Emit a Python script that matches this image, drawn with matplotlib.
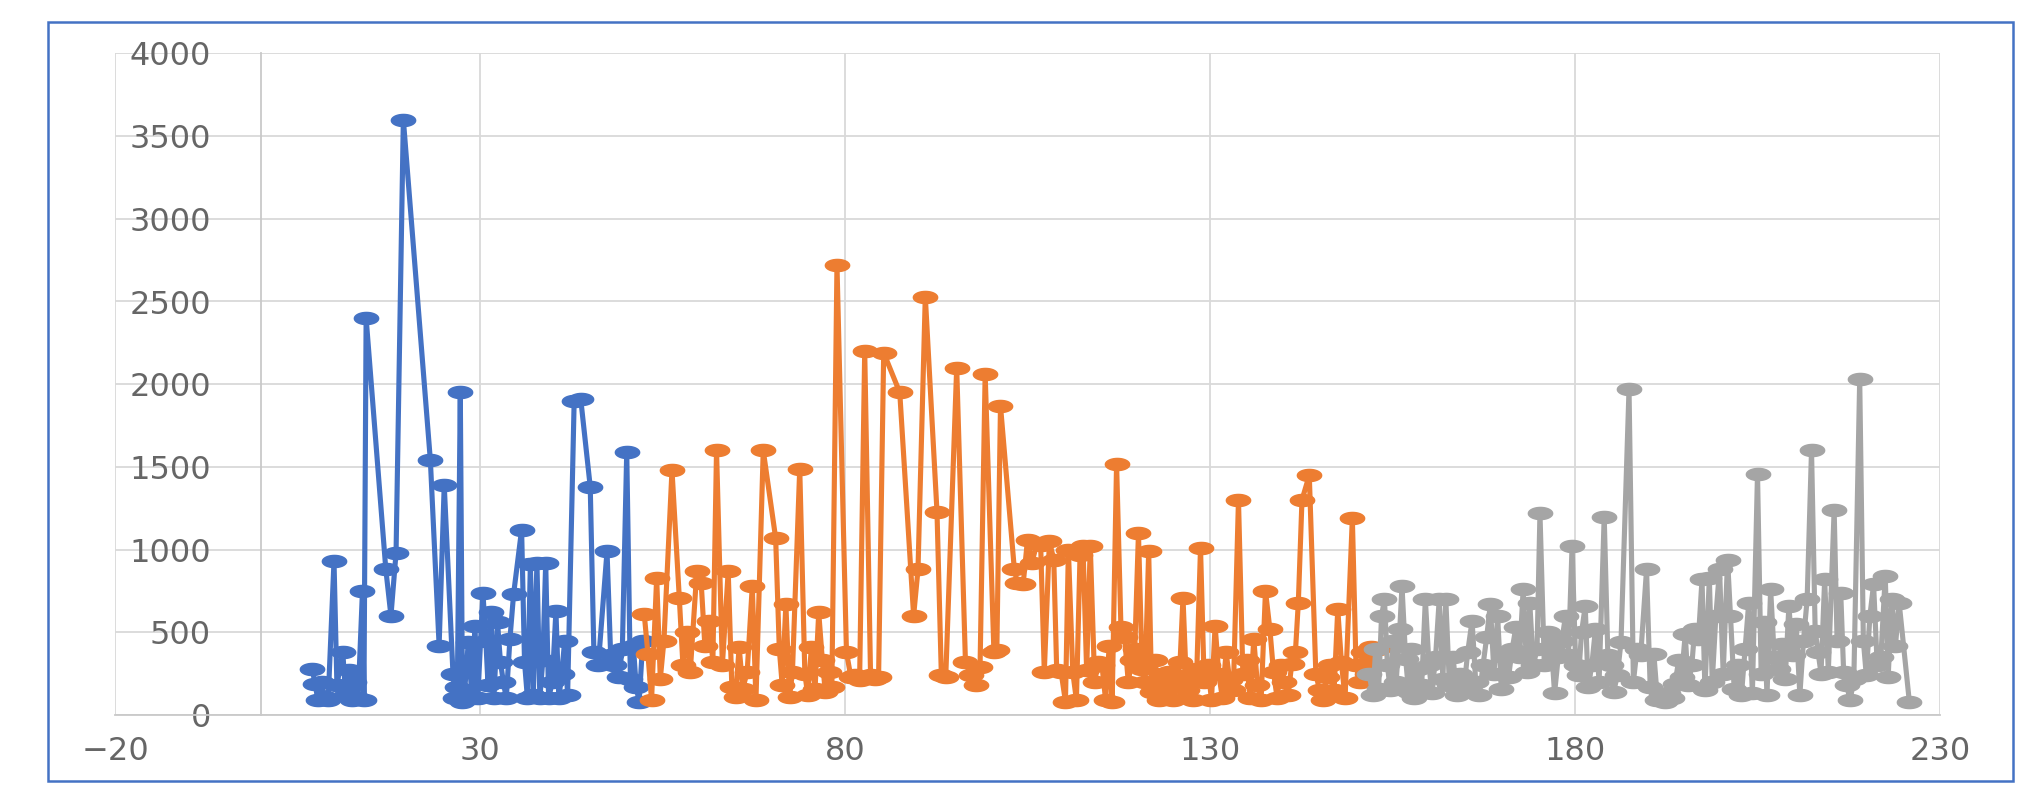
import numpy as np
import matplotlib
matplotlib.use("Agg")
import matplotlib.pyplot as plt
from matplotlib.path import Path
from matplotlib.patches import Rectangle

# ---------------- data ----------------
blue_x = [7.0, 7.4, 7.8, 8.3, 8.7, 9.2, 10.0, 10.4, 11.2, 11.6, 12.0, 12.4, 12.8, 13.3, 13.9, 14.1, 14.4,
          17.1, 17.8, 18.5, 19.5, 23.2, 24.4, 25.1, 26.3, 26.6, 26.9, 27.3, 27.6, 27.9, 28.4, 28.9, 29.3,
          29.7, 30.4, 30.8, 31.1, 31.5, 31.9, 32.4, 32.8, 33.2, 33.6, 34.1, 34.6, 35.7, 36.1, 36.5, 36.9,
          37.3, 37.8, 38.2, 38.6, 39.0, 39.4, 39.9, 40.4, 40.8, 41.2, 41.6, 42.0, 42.9, 43.8, 45.1, 45.6,
          46.2, 47.4, 47.9, 48.4, 49.0, 49.5, 50.1, 50.6, 51.0, 51.4, 51.8, 52.3]
blue_y = [280, 190, 90, 200, 110, 90, 930, 180, 380, 120, 270, 90, 200, 100, 750, 90, 2400,
          880, 600, 980, 3600, 1540, 420, 1390, 250, 100, 170, 1950, 80, 150, 440, 100, 540,
          100, 740, 450, 180, 620, 100, 560, 320, 200, 100, 460, 730, 1120, 320, 100, 910,
          120, 920, 100, 330, 920, 100, 200, 630, 100, 250, 450, 120, 1900, 1910, 1380, 380,
          300, 990, 360, 300, 230, 400, 1590, 220, 420, 170, 80, 450]

orange_x = [52.5, 53.0, 53.5, 54.2, 54.7, 55.2, 56.3, 57.3, 57.8, 58.3, 58.8, 59.7, 60.3, 60.8, 61.4,
            61.9, 62.4, 63.2, 64.0, 64.5, 65.0, 65.5, 66.0, 66.6, 67.3, 67.8, 68.8, 70.5, 71.0, 71.4,
            71.9, 72.4, 72.8, 73.8, 74.5, 74.9, 75.4, 75.9, 76.4, 76.9, 77.3, 77.8, 78.2, 78.9, 80.2,
            80.8, 81.4, 82.0, 82.7, 83.5, 84.1, 84.6, 85.3, 87.5, 89.4, 90.0, 91.0, 92.6, 93.2, 93.8,
            95.3, 96.5, 97.2, 97.9, 98.5, 99.2, 100.4, 100.8, 101.3, 103.2, 103.6, 104.4, 105.0, 105.6,
            106.3, 106.8, 107.3, 108.0, 108.6, 109.0, 109.6, 110.2, 110.6, 111.2, 111.7, 112.2, 112.6,
            113.1, 113.6, 114.2, 114.7, 115.2, 115.7, 116.2, 116.6, 117.2, 117.8, 118.3, 118.8, 119.3,
            119.7, 120.2, 120.7, 121.1, 121.6, 122.0, 122.5, 123.0, 123.4, 123.9, 124.4, 124.9, 125.4,
            125.9, 126.3, 126.8, 127.3, 127.7, 128.2, 128.7, 129.2, 129.7, 130.2, 130.7, 131.2, 131.7,
            132.2, 132.7, 133.2, 133.9, 134.5, 135.0, 135.5, 136.0, 136.5, 137.0, 137.6, 138.2, 138.7,
            139.2, 139.7, 140.2, 140.7, 141.2, 141.7, 142.1, 142.6, 143.6, 144.5, 145.0, 145.5, 146.0,
            146.5, 147.0, 147.5, 148.0, 148.5, 149.5, 150.0, 150.5, 151.0, 151.5, 152.0, 152.5, 153.0]
orange_y = [610, 370, 90, 830, 220, 450, 1480, 710, 300, 500, 260, 870, 800, 420, 570,
            320, 1600, 300, 870, 170, 110, 410, 160, 260, 780, 90, 1600, 1070, 400, 180,
            670, 110, 260, 1490, 250, 120, 410, 160, 620, 330, 140, 260, 170, 2720, 380,
            230, 240, 210, 2200, 240, 220, 230, 2190, 1950, 600, 880, 2530, 1230, 240, 230,
            2100, 320, 240, 180, 290, 2060, 380, 390, 1870, 880, 800, 790, 1060, 920,
            1040, 1030, 260, 1050, 940, 270, 260, 80, 1000, 260, 90, 970, 1020,
            270, 1020, 200, 320, 300, 90, 420, 80, 1520, 530, 470, 200, 330,
            400, 1100, 280, 200, 990, 140, 330, 90, 250, 150, 260, 90, 200,
            320, 710, 150, 250, 90, 280, 1010, 200, 300, 90, 540, 250, 100,
            380, 210, 150, 1300, 250, 330, 100, 460, 180, 90, 750, 520, 260,
            100, 300, 200, 120, 310, 380, 680, 1300, 1450, 250, 150, 90, 230,
            300, 150, 640, 320, 100, 1190, 300, 200, 380, 250, 410, 300, 400]

gray_x = [151.8, 152.3, 152.7, 153.1, 153.5, 153.9, 154.3, 154.7, 155.1, 155.5, 156.0, 156.3, 156.8,
          157.2, 157.6, 158.0, 158.5, 159.0, 159.5, 160.0, 160.4, 160.9, 161.4, 161.9, 162.3, 162.8,
          163.3, 163.8, 164.3, 164.8, 165.3, 165.9, 166.4, 166.9, 167.4, 167.9, 168.4, 168.9, 169.4,
          169.9, 170.4, 170.9, 171.4, 171.9, 172.4, 172.9, 173.4, 173.8, 174.3, 174.8, 175.2, 175.8,
          176.3, 176.8, 177.2, 177.7, 178.2, 178.7, 179.1, 179.6, 180.1, 180.5, 180.9, 181.4, 181.8,
          182.3, 182.8, 183.3, 184.0, 184.5, 184.9, 185.3, 185.8, 186.3, 187.4, 188.0, 188.5, 189.0,
          189.8, 190.3, 190.8, 191.3, 191.8, 192.3, 192.8, 193.3, 193.7, 194.2, 194.6, 195.1, 195.5,
          196.0, 196.4, 196.9, 197.4, 197.8, 198.4, 198.8, 199.3, 199.8, 200.3, 200.9, 201.3, 201.8,
          202.3, 202.8, 203.3, 203.8, 204.3, 205.0, 205.5, 205.9, 206.3, 206.8, 207.3, 207.8, 208.3,
          208.8, 209.3, 209.8, 210.3, 210.8, 211.3, 211.8, 212.4, 212.9, 213.3, 213.7, 214.2, 214.7,
          215.5, 215.9, 216.4, 216.8, 217.2, 217.7, 218.2, 219.0, 219.5, 219.9, 220.4, 220.9, 221.4,
          221.9, 222.5, 222.9, 223.4, 223.9, 224.4, 225.8]
gray_y = [250, 120, 400, 160, 600, 700, 300, 150, 450, 200, 520, 780, 340,
          140, 400, 100, 280, 180, 700, 300, 130, 350, 700, 220, 700, 180,
          350, 120, 250, 160, 380, 570, 200, 120, 300, 470, 670, 250, 600,
          160, 350, 230, 400, 530, 350, 760, 260, 680, 300, 400, 1220, 300,
          500, 400, 130, 350, 450, 600, 360, 1020, 300, 240, 500, 660, 170,
          300, 520, 200, 1200, 360, 300, 140, 240, 440, 1970, 200, 400, 360,
          880, 170, 370, 90, 120, 80, 130, 100, 190, 330, 230, 490, 180,
          300, 520, 460, 820, 150, 830, 200, 600, 880, 250, 940, 600, 160,
          300, 120, 400, 680, 130, 1460, 250, 560, 120, 760, 350, 280, 430,
          220, 660, 360, 550, 120, 450, 700, 1600, 510, 380, 250, 820, 260,
          1240, 450, 740, 260, 180, 90, 220, 2030, 450, 240, 600, 790, 300,
          350, 840, 230, 700, 420, 680, 80]

x_ticks = [-20, 30, 80, 130, 180, 230]
y_ticks = [0, 500, 1000, 1500, 2000, 2500, 3000, 3500, 4000]

# ---------------- styling ----------------
W, H = 2035, 786
fig = plt.figure(figsize=(W / 100, H / 100), dpi=100)
fig.patch.set_facecolor("white")

# outer blue border
fig.patches.append(Rectangle((48 / W, 1 - 781 / H), (2013 - 48) / W, (781 - 22) / H,
                             transform=fig.transFigure, fill=False,
                             edgecolor="#4472C4", linewidth=1.8))

ax = fig.add_axes([115 / W, 1 - 715 / H, (1940 - 115) / W, (715 - 53.4) / H])
ax.set_xlim(-20, 230)
ax.set_ylim(0, 4000)

t = np.linspace(0, 2 * np.pi, 64)
ell = Path(np.column_stack([np.cos(t), 0.5 * np.sin(t)]), closed=True)

series = [(blue_x, blue_y, "#4472C4"),
          (orange_x, orange_y, "#ED7D31"),
          (gray_x, gray_y, "#A5A5A5")]
for i, (xs, ys, c) in enumerate(series):
    ax.plot(xs, ys, color=c, lw=3.7, marker=ell, ms=17.5, mec=c, mfc=c,
            solid_joinstyle="round", zorder=3 + i)

ax.set_xticks(x_ticks)
ax.set_yticks(y_ticks)
ax.grid(True, color="#D9D9D9", lw=1.3, zorder=0)
ax.set_axisbelow(True)

for s in ["top", "right"]:
    ax.spines[s].set_visible(False)
ax.spines["left"].set_position(("data", 0))
ax.spines["left"].set_color("#C9C9C9")
ax.spines["left"].set_linewidth(1.3)
ax.spines["bottom"].set_color("#C9C9C9")
ax.spines["bottom"].set_linewidth(1.3)

ax.tick_params(axis="both", length=0, labelsize=23, labelcolor="#666666")
ax.tick_params(axis="y", pad=36)
ax.tick_params(axis="x", pad=15)
for lab in ax.get_xticklabels() + ax.get_yticklabels():
    lab.set_fontfamily("DejaVu Sans")

fig.savefig("out.png", dpi=100, facecolor="white")
